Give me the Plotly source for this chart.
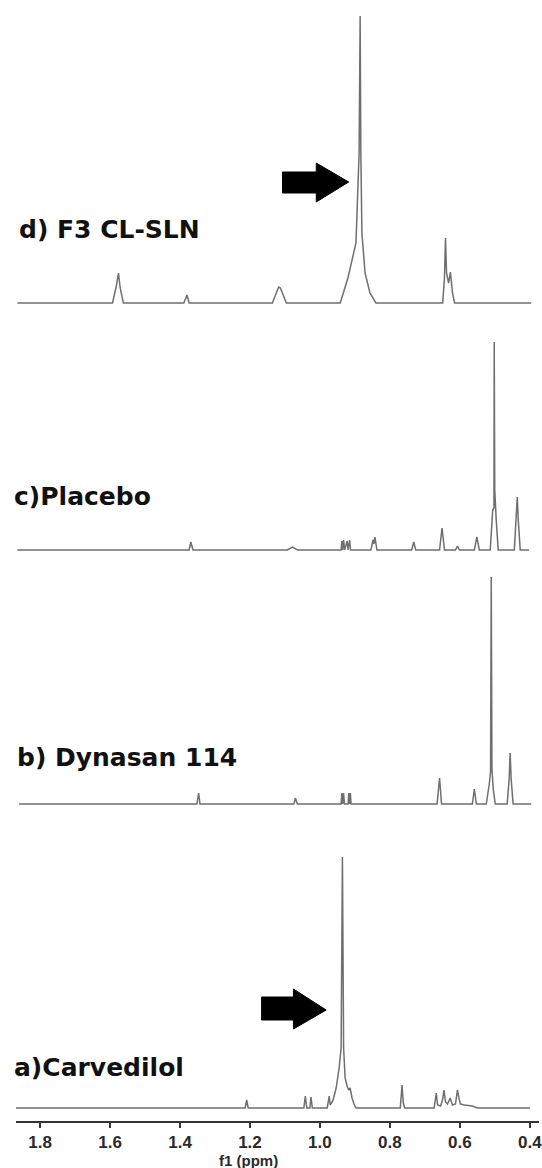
import plotly.graph_objects as go

# ---------------- data (ppm, relative intensity) ----------------
# d) F3 CL-SLN
d_ppm = [1.865, 1.593, 1.582, 1.576, 1.571, 1.562, 1.389, 1.380, 1.374,
         1.136, 1.118, 1.113, 1.096,
         0.942, 0.920, 0.902, 0.897, 0.888, 0.885, 0.883, 0.880, 0.871, 0.857, 0.840,
         0.649, 0.644, 0.641, 0.638, 0.632, 0.627, 0.621, 0.615, 0.396]
d_int = [0, 0, 17, 30, 15, 0, 0, 8, 0,
         0, 16, 15, 0,
         0, 25, 55, 60, 150, 287, 150, 70, 30, 10, 0,
         0, 25, 65, 30, 20, 31, 10, 0, 0]

# c) Placebo
c_ppm = [1.865, 1.374, 1.369, 1.363, 1.093, 1.079, 1.064,
         0.9394, 0.9374, 0.9351, 0.9323, 0.9294, 0.9223, 0.9195, 0.9152, 0.9124,
         0.8541, 0.8484, 0.8456, 0.8427, 0.8371,
         0.7376, 0.7319, 0.7262, 0.6580, 0.6509, 0.6438, 0.6125, 0.6068, 0.6011,
         0.5585, 0.5514, 0.5443,
         0.5131, 0.5060, 0.5025, 0.5017, 0.5002, 0.4960, 0.4903,
         0.4443, 0.4386, 0.4358, 0.4330, 0.4273, 0.402]
c_int = [0, 0, 8, 0, 0, 3, 0,
         0, 9, 0, 10, 0, 9, 0, 10, 0,
         0, 10, 6, 13, 0,
         0, 8, 0, 0, 22, 0, 0, 4, 0,
         0, 13, 0,
         0, 40, 42, 208, 60, 30, 0,
         0, 30, 53, 30, 0, 0]

# b) Dynasan 114
b_ppm = [1.860, 1.3516, 1.3467, 1.3430, 1.0744, 1.0702, 1.0645,
         0.9394, 0.9374, 0.9351, 0.9323, 0.9300, 0.9195, 0.9172, 0.9152, 0.9130, 0.9110,
         0.6651, 0.6580, 0.6523, 0.5642, 0.5585, 0.5528,
         0.5244, 0.5159, 0.5122, 0.5102, 0.5082, 0.5045, 0.4988,
         0.4647, 0.4590, 0.4562, 0.4533, 0.4477, 0.396]
b_int = [0, 0, 11, 0, 0, 6, 0,
         0, 11, 0, 11, 0, 0, 11, 0, 11, 0,
         0, 26, 0, 0, 15, 0,
         0, 20, 32, 227, 35, 15, 0,
         0, 25, 51, 25, 0, 0]

# a) Carvedilol
a_ppm = [1.869, 1.2137, 1.2094, 1.2052,
         1.0460, 1.0417, 1.0375, 1.0289, 1.0255, 1.0218,
         0.9792, 0.9735, 0.9707, 0.9622, 0.9536, 0.9451, 0.9394, 0.9357, 0.9323,
         0.9280, 0.9223, 0.9181, 0.9138, 0.9081, 0.9025, 0.8968,
         0.7703, 0.7674, 0.7652, 0.7617, 0.7575,
         0.6736, 0.6674, 0.6637, 0.6552, 0.6495, 0.6452, 0.6409, 0.6353, 0.6276,
         0.6211, 0.6125, 0.6068, 0.6026, 0.5983, 0.5869, 0.5642, 0.5500, 0.399]
a_int = [0, 0, 8, 0,
         0, 12, 0, 0, 11, 0,
         0, 12, 3, 8, 20, 40, 60, 251, 60,
         30, 22, 18, 20, 10, 4, 0,
         0, 10, 23, 5, 0,
         0, 15, 3, 2, 8, 18, 6, 4, 10,
         3, 4, 18, 10, 4, 3, 2, 0, 0]

labels = ["a)Carvedilol", "b) Dynasan 114", "c)Placebo", "d) F3 CL-SLN"]
tick_vals = [1.8, 1.6, 1.4, 1.2, 1.0, 0.8, 0.6, 0.4]
tick_text = ["1.8", "1.6", "1.4", "1.2", "1.0", "0.8", "0.6", "0.4"]

# ---------------- figure ----------------
LINE = dict(color="#6f6f6f", width=1.5)
fig = go.Figure()
for ppm, inten, ya in [(a_ppm, a_int, "y"), (b_ppm, b_int, "y2"),
                       (c_ppm, c_int, "y3"), (d_ppm, d_int, "y4")]:
    fig.add_trace(go.Scatter(x=ppm, y=inten, mode="lines", line=LINE,
                             xaxis="x", yaxis=ya, showlegend=False,
                             hoverinfo="skip"))

H = 1121.0  # plot-area height in px


def dom(top_px, bot_px):
    return [1 - bot_px / H, 1 - top_px / H]


fig.update_layout(
    width=542, height=1168,
    margin=dict(l=16, r=0, t=0, b=47),
    paper_bgcolor="white", plot_bgcolor="white",
    showlegend=False,
    xaxis=dict(range=[1.8689, 0.3737], anchor="y", showgrid=False, zeroline=False,
               showline=True, linecolor="#333333", linewidth=1.6,
               ticks="outside", ticklen=5, tickwidth=1.5, tickcolor="#333333",
               tickvals=tick_vals, ticktext=tick_text,
               ticklabeloverflow="allow",
               tickfont=dict(family="Liberation Sans, Arial", size=17,
                             color="#2a2a2a", weight="bold")),
    yaxis=dict(domain=dom(830, 1121), range=[-13, 278], visible=False, anchor="x"),
    yaxis2=dict(domain=dom(565, 815), range=[-11, 239], visible=False, anchor="x"),
    yaxis3=dict(domain=dom(318, 560), range=[-10, 232], visible=False, anchor="x"),
    yaxis4=dict(domain=dom(0, 312), range=[-9, 303], visible=False, anchor="x"),
)

# arrows (filled block arrows)
fig.add_shape(type="path", xref="x", yref="y4",
              path="M 1.1071,110 L 1.0105,110 L 1.0105,101 L 0.9178,121 "
                   "L 1.0105,140 L 1.0105,131 L 1.1071,131 Z",
              fillcolor="black", line=dict(color="black", width=1))
fig.add_shape(type="path", xref="x", yref="y",
              path="M 1.1668,88 L 1.0758,88 L 1.0758,79 L 0.9820,98 "
                   "L 1.0758,119 L 1.0758,111 L 1.1668,111 Z",
              fillcolor="black", line=dict(color="black", width=1))

# spectrum labels
label_pos = [(12, 1067), (15, 757), (12, 497), (17, 230)]
for txt, (px, py) in zip(labels, label_pos):
    fig.add_annotation(text=txt, xref="paper", yref="paper",
                       x=(px - 16) / 526.0, y=1 - py / H,
                       xanchor="left", yanchor="middle", showarrow=False,
                       font=dict(family="DejaVu Sans", size=25, color="#111111",
                                 weight="bold"))

# axis title
fig.add_annotation(text="f1 (ppm)", xref="paper", yref="paper",
                   x=(250 - 16) / 526.0, y=1 - 1160 / H,
                   xanchor="center", yanchor="middle", showarrow=False,
                   font=dict(family="Liberation Sans, Arial", size=15,
                             color="#2a2a2a", weight="bold"))

fig.write_html("out.html")
